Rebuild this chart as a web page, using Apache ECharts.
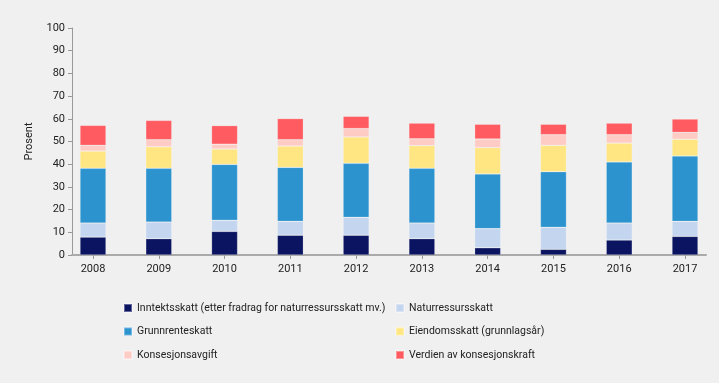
<!DOCTYPE html>
<html><head><meta charset="utf-8">
<script src="https://cdn.jsdelivr.net/npm/echarts@6/dist/echarts.min.js"></script>
<style>html,body{margin:0;padding:0;background:#eff0ef}#c{width:719px;height:383px}</style>
</head><body><div id="c"></div>
<script>
const years = ['2008','2009','2010','2011','2012','2013','2014','2015','2016','2017'];
const yTicks = [0,10,20,30,40,50,60,70,80,90,100];
const inntektsskatt = [7.9,7.2,10.4,8.7,8.7,7.2,3.2,2.5,6.6,8.2];
const naturressursskatt = [6.2,7.3,4.9,6.1,7.9,6.9,8.4,9.7,7.5,6.6];
const grunnrenteskatt = [24.1,23.7,24.6,23.8,23.8,24.1,24.1,24.5,26.9,28.8];
const eiendomsskatt = [7.6,9.5,6.8,9.4,11.6,10.0,11.6,11.6,8.3,7.4];
const konsesjonsavgift = [2.5,3.1,2.1,2.8,3.7,3.0,3.8,4.7,3.7,3.0];
const konsesjonskraft = [8.8,8.5,8.2,9.3,5.4,6.9,6.5,4.6,5.1,5.9];
const names = ['Inntektsskatt (etter fradrag for naturressursskatt mv.)','Naturressursskatt','Grunnrenteskatt','Eiendomsskatt (grunnlagsår)','Konsesjonsavgift','Verdien av konsesjonskraft'];
const colors = ['#0b1461','#c4d5ef','#2c93cf','#ffe682','#ffcbc5','#ff5b60'];
const seriesData = [inntektsskatt,naturressursskatt,grunnrenteskatt,eiendomsskatt,konsesjonsavgift,konsesjonskraft];
const font = 'Roboto, sans-serif';
const legendText = {fontFamily:font,fontSize:10.5,color:'#222',lineHeight:14};
const chart = echarts.init(document.getElementById('c'));
chart.setOption({
  backgroundColor:'#eff0ef',
  animation:false,
  textStyle:{fontFamily:font,color:'#222'},
  grid:[{left:93,right:34,top:28,bottom:128},{left:72,right:13,top:28,bottom:128}],
  legend:[
    {orient:'vertical',left:123,top:301,itemWidth:8,itemHeight:8,itemGap:9.5,icon:'rect',padding:0,
     textStyle:legendText,data:[names[0],names[2],names[4]]},
    {orient:'vertical',left:395,top:301,itemWidth:8,itemHeight:8,itemGap:9.5,icon:'rect',padding:0,
     textStyle:legendText,data:[names[1],names[3],names[5]]}
  ],
  xAxis:[{type:'category',gridIndex:0,data:years,boundaryGap:false,
    axisLine:{show:false},axisTick:{show:true,length:4,lineStyle:{color:'#999'}},
    axisLabel:{margin:9,fontSize:11,color:'#222',fontFamily:font}},
    {type:'value',gridIndex:1,min:0,max:1,axisLine:{show:true,lineStyle:{color:'#aaa',width:2}},
    axisTick:{show:false},axisLabel:{show:false},splitLine:{show:false}}],
  yAxis:[{type:'value',gridIndex:0,min:0,max:100,interval:10,offset:21,
    name:'Prosent',nameLocation:'middle',nameRotate:90,nameGap:37,
    nameTextStyle:{fontSize:11,color:'#222',fontFamily:font},
    axisLine:{show:true,lineStyle:{color:'#999'}},axisTick:{show:true,length:4,lineStyle:{color:'#999'}},
    axisLabel:{fontSize:11,color:'#222',margin:7,fontFamily:font},splitLine:{show:false}},
    {type:'value',gridIndex:1,show:false,min:0,max:1}],
  series:seriesData.map((d,i)=>({name:names[i],type:'bar',stack:'s',xAxisIndex:0,yAxisIndex:0,
    barWidth:26,data:d,itemStyle:{color:colors[i],borderColor:'rgba(255,255,255,0.35)',borderWidth:0.6}}))
});
</script></body></html>
